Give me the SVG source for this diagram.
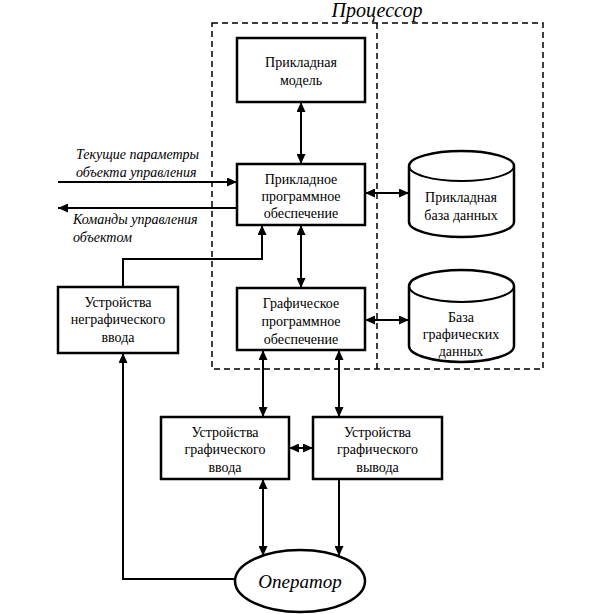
<svg xmlns="http://www.w3.org/2000/svg" width="600" height="614" viewBox="0 0 600 614">
<defs>
<marker id="ah" viewBox="0 0 10 9" refX="10" refY="4.5" markerWidth="10" markerHeight="9" markerUnits="userSpaceOnUse" orient="auto-start-reverse">
<path d="M0,0 L10,4.5 L0,9 z" fill="#000"/>
</marker>
<style>
.box{fill:#fff;stroke:#000;stroke-width:2.5}
.dash{fill:none;stroke:#000;stroke-width:1.5;stroke-dasharray:6,4}
.t{font-family:'Liberation Serif','Times New Roman',serif;font-size:14px;fill:#000;text-anchor:middle}
.it{font-family:'Liberation Serif','Times New Roman',serif;font-style:italic;font-size:14px;fill:#000}
.big{font-size:20px;text-anchor:middle}
.op{font-size:19px;text-anchor:middle}
.ln{fill:none;stroke:#000;stroke-width:2}
.one{marker-end:url(#ah)}
.two{marker-start:url(#ah);marker-end:url(#ah)}
</style>
</defs>
<rect width="600" height="614" fill="#fff"/>
<g id="processor">
<rect class="dash" x="212" y="23" width="331" height="346"/>
<line class="dash" x1="377" y1="23" x2="377" y2="369"/>
<text class="it big" x="377" y="17">Процессор</text>
</g>
<g id="connectors">
<line class="ln two" x1="301" y1="102" x2="301" y2="164"/>
<path class="ln one" d="M58,182 H237"/>
<path class="ln one" d="M237,208 H58"/>
<line class="ln two" x1="365" y1="193" x2="409" y2="193"/>
<line class="ln two" x1="301" y1="225" x2="301" y2="288"/>
<path class="ln one" d="M123,287 V259 H262 V225"/>
<line class="ln two" x1="365" y1="320" x2="409" y2="320"/>
<line class="ln two" x1="263" y1="350" x2="263" y2="417"/>
<line class="ln two" x1="339" y1="350" x2="339" y2="417"/>
<line class="ln two" x1="289" y1="448" x2="313" y2="448"/>
<line class="ln two" x1="263" y1="479" x2="263" y2="556"/>
<line class="ln one" x1="339" y1="479" x2="339" y2="556"/>
<path class="ln one" d="M235,579 H123 V353"/>
</g>
<g id="labels">
<text class="it" x="76" y="159">Текущие параметры</text>
<text class="it" x="76" y="177">объекта управления</text>
<text class="it" x="73" y="224">Команды управления</text>
<text class="it" x="73" y="242">объектом</text>
</g>
<g id="app-model">
<rect class="box" x="237" y="38" width="128" height="64"/>
<text class="t" x="301" y="67">Прикладная</text>
<text class="t" x="301" y="85">модель</text>
</g>
<g id="app-software">
<rect class="box" x="237" y="164" width="128" height="61"/>
<text class="t" x="301" y="184">Прикладное</text>
<text class="t" x="301" y="201">программное</text>
<text class="t" x="301" y="218">обеспечение</text>
</g>
<g id="graphic-software">
<rect class="box" x="237" y="288" width="128" height="62"/>
<text class="t" x="301" y="308">Графическое</text>
<text class="t" x="301" y="326">программное</text>
<text class="t" x="301" y="344">обеспечение</text>
</g>
<g id="app-db">
<path class="box" d="M409,166 A52.5,15 0 0 1 514,166 V222 A52.5,15 0 0 1 409,222 Z"/>
<path class="ln" d="M409,166 A52.5,15 0 0 0 514,166"/>
<text class="t" x="461" y="202">Прикладная</text>
<text class="t" x="461" y="220">база данных</text>
</g>
<g id="graphic-db">
<path class="box" d="M409,286 A52.5,16 0 0 1 514,286 V346 A52.5,16 0 0 1 409,346 Z"/>
<path class="ln" d="M409,286 A52.5,16 0 0 0 514,286"/>
<text class="t" x="461" y="322">База</text>
<text class="t" x="461" y="339">графических</text>
<text class="t" x="461" y="356">данных</text>
</g>
<g id="nongraphic-input">
<rect class="box" x="58" y="287" width="120" height="66"/>
<text class="t" x="118" y="307">Устройства</text>
<text class="t" x="118" y="324">неграфического</text>
<text class="t" x="118" y="342">ввода</text>
</g>
<g id="graphic-input">
<rect class="box" x="161" y="417" width="128" height="62"/>
<text class="t" x="225" y="437">Устройства</text>
<text class="t" x="225" y="454">графического</text>
<text class="t" x="225" y="472">ввода</text>
</g>
<g id="graphic-output">
<rect class="box" x="313" y="417" width="129" height="62"/>
<text class="t" x="377.5" y="437">Устройства</text>
<text class="t" x="377.5" y="454">графического</text>
<text class="t" x="377.5" y="472">вывода</text>
</g>
<g id="operator">
<ellipse class="box" cx="300" cy="581" rx="65" ry="31"/>
<text class="it op" x="300" y="588">Оператор</text>
</g>
</svg>
